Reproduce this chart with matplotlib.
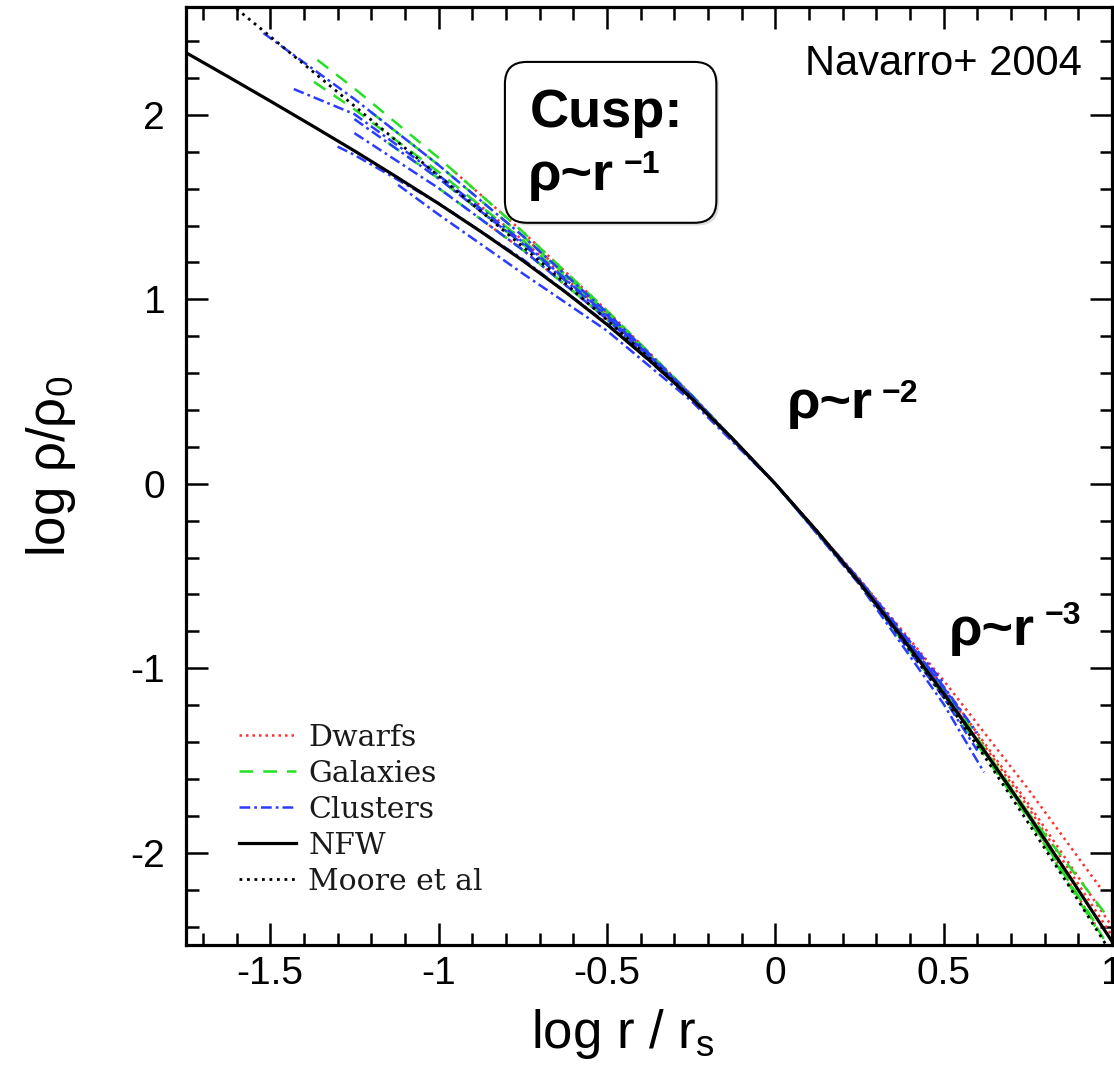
import matplotlib
matplotlib.use("Agg")
import matplotlib.pyplot as plt
from matplotlib.patches import FancyBboxPatch
from matplotlib.ticker import MultipleLocator, FuncFormatter
import matplotlib.patheffects as pe

plt.rcParams['font.family'] = ['Liberation Sans', 'DejaVu Sans']
plt.rcParams['mathtext.fontset'] = 'custom'
plt.rcParams['mathtext.rm'] = 'Liberation Sans'
plt.rcParams['mathtext.it'] = 'Liberation Sans:italic'
plt.rcParams['mathtext.bf'] = 'Liberation Sans:bold'
plt.rcParams['axes.unicode_minus'] = False

# ---------------- data ----------------
nfw_x = [-1.75, -1.625, -1.5, -1.375, -1.25, -1.125, -1.0, -0.875, -0.75, -0.625, -0.5,
         -0.375, -0.25, -0.125, 0.0, 0.125, 0.25, 0.375, 0.5, 0.625, 0.75, 0.875, 1.0]
nfw_y = [2.337, 2.207, 2.075, 1.941, 1.805, 1.664, 1.519, 1.368, 1.210, 1.042, 0.864,
         0.671, 0.465, 0.241, 0.0, -0.259, -0.535, -0.829, -1.137, -1.458, -1.790, -2.132, -2.481]

moore_x = [-1.6, -1.5, -1.375, -1.25, -1.125, -1.0, -0.875, -0.75, -0.625, -0.5, -0.375,
           -0.25, -0.125, 0.0, 0.125, 0.25, 0.375, 0.5, 0.625, 0.75, 0.875, 1.0]
moore_y = [2.575, 2.425, 2.237, 2.048, 1.859, 1.669, 1.478, 1.285, 1.089, 0.889, 0.683,
           0.468, 0.242, 0.0, -0.259, -0.539, -0.838, -1.155, -1.488, -1.834, -2.188, -2.550]

dwarfs = [
    ([-0.95, -0.75, -0.5, -0.25, 0.0, 0.25, 0.5, 0.75, 0.97],
     [1.687, 1.366, 0.939, 0.485, 0.0, -0.516, -1.066, -1.652, -2.201]),
    ([-0.9, -0.75, -0.5, -0.25, 0.0, 0.25, 0.5, 0.75, 1.0],
     [1.543, 1.321, 0.918, 0.479, 0.0, -0.525, -1.110, -1.750, -2.450]),
    ([-0.85, -0.75, -0.5, -0.25, 0.0, 0.25, 0.5, 0.75, 0.95],
     [1.402, 1.268, 0.893, 0.472, 0.0, -0.530, -1.125, -1.792, -2.390]),
    ([-0.75, -0.5, -0.25, 0.0, 0.25, 0.5, 0.75, 1.0],
     [1.344, 0.929, 0.482, 0.0, -0.520, -1.100, -1.730, -2.400]),
]

galaxies = [
    ([-1.36, -1.25, -1.0, -0.75, -0.5, -0.25, 0.0, 0.25, 0.5, 0.75, 0.9],
     [2.298, 2.143, 1.767, 1.366, 0.939, 0.485, 0.0, -0.520, -1.110, -1.780, -2.200]),
    ([-1.37, -1.25, -1.0, -0.75, -0.5, -0.25, 0.0, 0.25, 0.5, 0.75, 0.98],
     [2.179, 2.030, 1.691, 1.321, 0.918, 0.479, 0.0, -0.530, -1.130, -1.780, -2.330]),
    ([-1.2, -1.0, -0.75, -0.5, -0.25, 0.0, 0.25, 0.5, 0.75, 0.95],
     [2.014, 1.728, 1.344, 0.929, 0.482, 0.0, -0.540, -1.150, -1.810, -2.400]),
    ([-1.15, -1.0, -0.75, -0.5, -0.25, 0.0, 0.25, 0.5, 0.75, 0.95],
     [1.848, 1.655, 1.300, 0.908, 0.476, 0.0, -0.530, -1.130, -1.800, -2.380]),
    ([-1.0, -0.75, -0.5, -0.25, 0.0, 0.25, 0.5, 0.75, 1.0],
     [1.603, 1.268, 0.893, 0.472, 0.0, -0.530, -1.125, -1.792, -2.540]),
]

clusters = [
    ([-1.52, -1.25, -1.0, -0.75, -0.5, -0.25, 0.0, 0.25, 0.5],
     [2.443, 2.086, 1.728, 1.344, 0.929, 0.482, 0.0, -0.519, -1.079]),
    ([-1.43, -1.25, -1.0, -0.75, -0.5, -0.25, 0.0, 0.25, 0.5, 0.6],
     [2.140, 2.004, 1.673, 1.311, 0.913, 0.478, 0.0, -0.524, -1.099, -1.351]),
    ([-1.25, -1.0, -0.75, -0.5, -0.25, 0.0, 0.25, 0.5, 0.65],
     [1.901, 1.603, 1.268, 0.893, 0.472, 0.0, -0.530, -1.125, -1.525]),
    ([-1.3, -1.25, -1.0, -0.75, -0.5, -0.25, 0.0, 0.25, 0.5, 0.6],
     [1.828, 1.783, 1.521, 1.218, 0.869, 0.466, 0.0, -0.538, -1.159, -1.446]),
    ([-1.12, -1.0, -0.75, -0.5, -0.25, 0.0, 0.25, 0.5, 0.62],
     [1.620, 1.460, 1.140, 0.830, 0.450, 0.0, -0.546, -1.194, -1.564]),
    ([-1.25, -1.0, -0.75, -0.5, -0.25, 0.0, 0.25, 0.5, 0.55],
     [1.977, 1.655, 1.300, 0.908, 0.476, 0.0, -0.525, -1.105, -1.233]),
]

legend_labels = ["Dwarfs", "Galaxies", "Clusters", "NFW", "Moore et al"]
x_ticks = [-1.5, -1.0, -0.5, 0.0, 0.5, 1.0]
y_ticks = [-2, -1, 0, 1, 2]

# ---------------- figure ----------------
fig = plt.figure(figsize=(11.14, 10.69), dpi=100)
ax = fig.add_axes([0.1670, 0.1160, 0.8312, 0.8775])

RED = '#ff3030'
GREEN = '#22e022'
BLUE = '#2a3cff'
lw_sim = 1.8

h_d = h_g = h_c = None
for xs, ys in dwarfs:
    h_d, = ax.plot(xs, ys, color=RED, lw=lw_sim, linestyle=(0, (1.0, 1.6)), zorder=2)
for xs, ys in galaxies:
    h_g, = ax.plot(xs, ys, color=GREEN, lw=lw_sim, linestyle=(0, (5.5, 4.0)), zorder=2)
for xs, ys in clusters:
    h_c, = ax.plot(xs, ys, color=BLUE, lw=lw_sim, linestyle=(0, (4.3, 1.6, 1.1, 1.6)), zorder=2)
h_n, = ax.plot(nfw_x, nfw_y, color='black', lw=2.3, zorder=3)
h_m, = ax.plot(moore_x, moore_y, color='black', lw=2.0, linestyle=(0, (1.0, 1.7)), zorder=3)

ax.set_xlim(-1.75, 1.0)
ax.set_ylim(-2.5, 2.585)

ax.set_xticks(x_ticks)
ax.set_yticks(y_ticks)
ax.xaxis.set_minor_locator(MultipleLocator(0.1))
ax.yaxis.set_minor_locator(MultipleLocator(0.2))
ax.xaxis.set_major_formatter(FuncFormatter(lambda v, p: '%g' % v))
ax.yaxis.set_major_formatter(FuncFormatter(lambda v, p: '%g' % v))

for sp in ax.spines.values():
    sp.set_linewidth(2.3)
ax.tick_params(which='both', direction='in', top=True, right=True, width=1.8, labelsize=28)
ax.tick_params(which='major', length=16)
ax.tick_params(which='minor', length=9)
ax.tick_params(axis='x', which='major', pad=8)
ax.tick_params(axis='y', which='major', pad=15)

ax.set_xlabel('log r / r$_\\mathregular{s}$', fontsize=38)
ax.xaxis.set_label_coords(0.472, -0.066)
ax.set_ylabel('log \u03c1/\u03c1$_\\mathregular{0}$', fontsize=38)
ax.yaxis.set_label_coords(-0.117, 0.51)

# title-like annotation
ax.text(0.968, 0.9275, 'Navarro+ 2004', transform=ax.transAxes, fontsize=30,
        ha='right', va='baseline')

# Cusp box
box = FancyBboxPatch((-0.803, 1.415), 0.628, 0.872,
                     boxstyle='round,pad=0,rounding_size=0.065',
                     mutation_aspect=1.83, transform=ax.transData,
                     facecolor='white', edgecolor='black', lw=1.5, zorder=5)
box.set_path_effects([pe.SimplePatchShadow(offset=(2, -2), shadow_rgbFace='0.75', alpha=0.5),
                      pe.Normal()])
ax.add_patch(box)


def slope_label(x, y, sup, ysup):
    t = ax.text(x, y, '\u03c1~r', fontsize=39, fontweight='bold', ha='left',
                va='baseline', zorder=6)
    ax.annotate(sup, xy=(1.0, ysup), xycoords=(t, 'data'), xytext=(7, 0),
                textcoords='offset points', fontsize=23, fontweight='bold',
                ha='left', va='baseline', zorder=6)


ax.text(-0.729, 1.935, 'Cusp:', fontsize=39, fontweight='bold', ha='left', va='baseline', zorder=6)
slope_label(-0.735, 1.593, '\u22121', 1.686)
slope_label(0.033, 0.358, '\u22122', 0.444)
slope_label(0.516, -0.873, '\u22123', -0.759)

leg = ax.legend([h_d, h_g, h_c, h_n, h_m], legend_labels, loc='upper left',
                bbox_to_anchor=(0.057, 0.236), frameon=False, borderpad=0, borderaxespad=0,
                handlelength=1.9, handletextpad=0.42, labelspacing=0.27,
                prop={'family': 'DejaVu Serif', 'size': 21.5})
for t in leg.get_texts():
    t.set_color('#1a1a1a')

fig.savefig('out.png', dpi=100)
